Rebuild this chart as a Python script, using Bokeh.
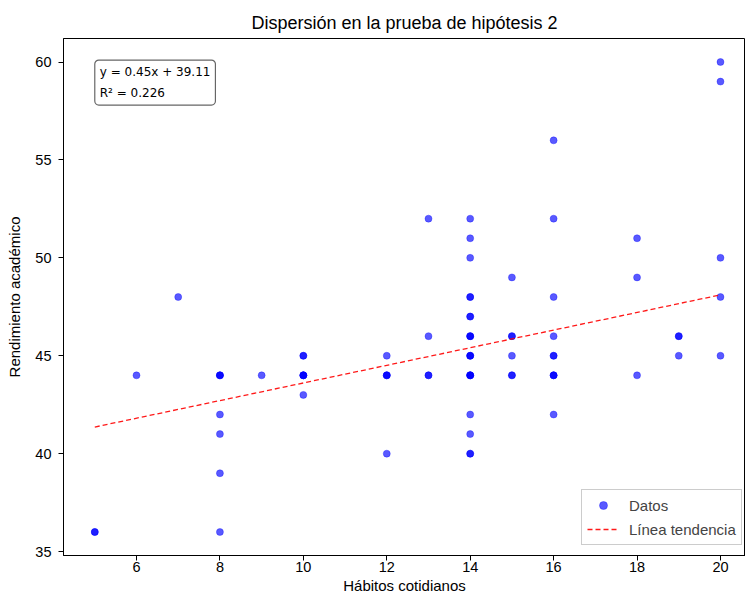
from bokeh.plotting import figure
from bokeh.models import FixedTicker, Label, Legend, LegendItem, Range1d
from bokeh.embed import file_html
from bokeh.resources import INLINE

# Data (duplicates give the darker dots)
habitos = [5, 5,
           6,
           7,
           8, 8, 8, 8, 8, 8, 8,
           9,
           10, 10, 10, 10, 10, 10, 10,
           12, 12, 12, 12, 12,
           13, 13, 13, 13,
           14, 14, 14, 14, 14, 14, 14, 14, 14, 14, 14, 14, 14, 14, 14, 14, 14, 14, 14, 14, 14,
           15, 15, 15, 15, 15, 15,
           16, 16, 16, 16, 16, 16, 16, 16, 16, 16,
           18, 18, 18,
           19, 19, 19,
           20, 20, 20, 20, 20]
rendimiento = [36, 36,
               44,
               48,
               44, 44, 44, 42, 41, 39, 36,
               44,
               45, 45, 44, 44, 44, 44, 43,
               45, 44, 44, 44, 40,
               52, 46, 44, 44,
               52, 51, 50, 48, 48, 47, 47, 46, 46, 46, 45, 45, 45, 44, 44, 44, 44, 42, 41, 40, 40,
               49, 46, 46, 45, 44, 44,
               56, 52, 48, 46, 45, 45, 44, 44, 44, 42,
               51, 49, 44,
               46, 46, 45,
               60, 59, 50, 48, 45]

pendiente = 0.45
intercepto = 39.11
r2 = 0.226

x_ticks = [6, 8, 10, 12, 14, 16, 18, 20]
y_ticks = [35, 40, 45, 50, 55, 60]

FONT = "Liberation Sans"

p = figure(width=745, height=599, output_backend="svg", toolbar_location=None,
           x_range=Range1d(4.25, 20.6), y_range=Range1d(34.8, 61.2),
           x_axis_label="Hábitos cotidianos", y_axis_label="Rendimiento académico",
           title="Dispersión en la prueba de hipótesis 2",
           min_border=0, min_border_left=63, min_border_right=0, min_border_top=38,
           min_border_bottom=44)
p.grid.visible = False
p.outline_line_color = "black"
p.outline_line_width = 1
p.background_fill_color = "white"
p.border_fill_color = "white"

p.title.align = "center"
p.title.text_font = FONT
p.title.text_font_size = "18px"
p.title.text_font_style = "normal"
p.title.text_color = "black"
p.title.standoff = 11
p.title.offset = 3

for ax in (p.xaxis[0], p.yaxis[0]):
    ax.axis_line_color = "black"
    ax.major_tick_line_color = "black"
    ax.major_tick_out = 5
    ax.major_tick_in = 0
    ax.minor_tick_line_color = None
    ax.major_label_text_font = FONT
    ax.major_label_text_font_size = "14.5px"
    ax.major_label_text_color = "black"
    ax.axis_label_text_font = FONT
    ax.axis_label_text_font_size = "15px"
    ax.axis_label_text_font_style = "normal"
    ax.axis_label_text_color = "black"
p.xaxis[0].ticker = FixedTicker(ticks=x_ticks)
p.yaxis[0].ticker = FixedTicker(ticks=y_ticks)
p.xaxis[0].major_label_standoff = 1
p.xaxis[0].axis_label_standoff = 2
p.yaxis[0].major_label_standoff = 7
p.yaxis[0].axis_label_standoff = 9

pts = p.scatter(habitos, rendimiento, size=7, fill_color="blue", fill_alpha=0.65,
                line_color="blue", line_alpha=0.65, line_width=0.5)

xl = [min(habitos), max(habitos)]
yl = [pendiente * v + intercepto for v in xl]
ln = p.line(xl, yl, line_color="red", line_width=1.3, line_dash="5 3", line_alpha=0.9)

legend = Legend(items=[LegendItem(label="Datos", renderers=[pts]),
                       LegendItem(label="Línea tendencia", renderers=[ln])],
                location=(518, 10), label_text_font=FONT, label_text_font_size="15px",
                border_line_color="#cccccc", border_line_alpha=1, background_fill_alpha=0.9,
                glyph_width=32, glyph_height=20, label_height=20, label_standoff=10,
                spacing=4, padding=5, margin=0)
p.add_layout(legend)

info = Label(x=min(habitos), y=max(rendimiento) + 0.1, x_units="data", y_units="data",
             text=f"y = {pendiente:.2f}x + {intercepto:.2f}\nR² = {r2:.3f}",
             anchor="top_left", text_font="DejaVu Sans", text_font_size="12px",
             text_line_height=1.5,
             text_color="black", background_fill_color="white", background_fill_alpha=0.85,
             border_line_color="#666666", border_line_width=1.2, padding=5, border_radius=4)
p.add_layout(info)

open("out.html", "w").write(file_html(p, INLINE))
